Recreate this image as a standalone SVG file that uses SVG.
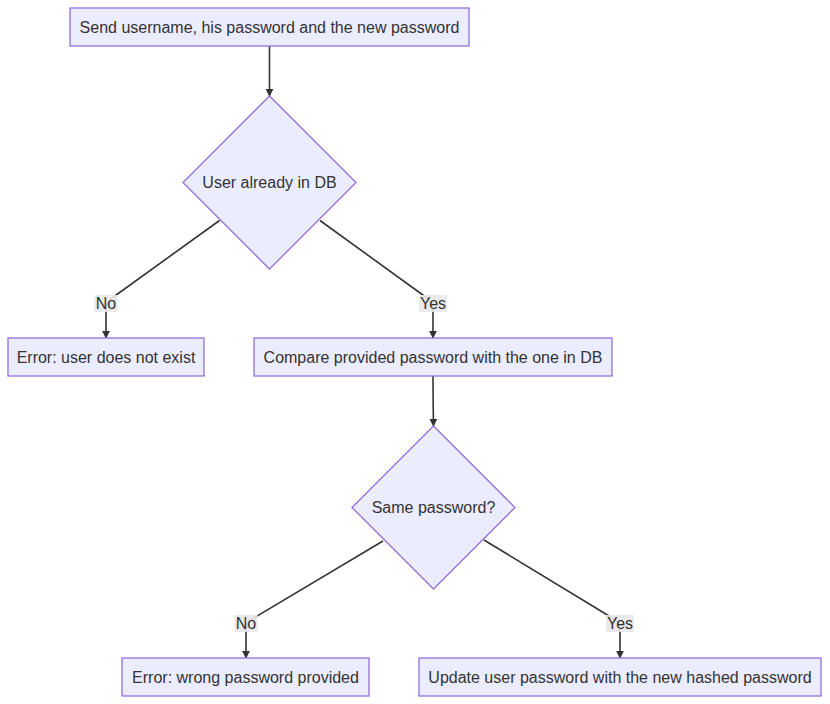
<svg xmlns="http://www.w3.org/2000/svg" width="830" height="704" viewBox="0 0 830 704">
<defs>
<marker id="arrow" viewBox="0 0 10 10" refX="9" refY="5" markerWidth="8" markerHeight="8" markerUnits="userSpaceOnUse" orient="auto">
<path d="M0,0 L10,5 L0,10 z" fill="#333333"/>
</marker>
<style>
.node rect, .node polygon { fill: #ECECFF; stroke: #9370DB; stroke-width: 1.3; }
.lbl { font-family: "Liberation Sans", Arial, sans-serif; font-size: 16px; fill: #333333; text-anchor: middle; dominant-baseline: central; }
.edge { fill: none; stroke: #333333; stroke-width: 1.6; marker-end: url(#arrow); }
.edgebg { fill: #E8E8E8; opacity: 0.9; }
</style>
</defs>
<rect width="830" height="704" fill="#ffffff"/>
<g id="connectors">
<path class="edge" d="M269.5,46 L269.5,96"/>
<path class="edge" d="M219.5,220.5 L112,298 Q106,302.5 106,310 L106,338"/>
<path class="edge" d="M320,220.5 L427,298 Q433,302.5 433,310 L433,338"/>
<path class="edge" d="M433,376 Q433,400 433.5,426"/>
<path class="edge" d="M383,541 L252,619 Q246,623 246,630 L246,658"/>
<path class="edge" d="M484,540 L614,619 Q620,623 620,630 L620,658"/>
</g>
<g id="edge-labels">
<rect class="edgebg" x="94.5" y="295" width="23" height="17"/>
<text class="lbl" x="106" y="303.5">No</text>
<rect class="edgebg" x="419" y="295" width="28" height="17"/>
<text class="lbl" x="433" y="303.5">Yes</text>
<rect class="edgebg" x="234.5" y="615" width="23" height="17"/>
<text class="lbl" x="246" y="623.5">No</text>
<rect class="edgebg" x="606" y="615" width="28" height="17"/>
<text class="lbl" x="620" y="623.5">Yes</text>
</g>
<g id="node-send" class="node">
<rect x="70" y="8" width="399" height="38"/>
<text class="lbl" x="269.5" y="27">Send username, his password and the new password</text>
</g>
<g id="node-userindb" class="node">
<polygon points="269.5,96 356,182.5 269.5,269 183,182.5"/>
<text class="lbl" x="269.5" y="182.5">User already in DB</text>
</g>
<g id="node-error-user" class="node">
<rect x="8" y="338" width="196" height="38"/>
<text class="lbl" x="106" y="357">Error: user does not exist</text>
</g>
<g id="node-compare" class="node">
<rect x="254" y="338" width="358" height="38"/>
<text class="lbl" x="433" y="357">Compare provided password with the one in DB</text>
</g>
<g id="node-samepw" class="node">
<polygon points="433.5,426 515,507.5 433.5,589 352,507.5"/>
<text class="lbl" x="433.5" y="507.5">Same password?</text>
</g>
<g id="node-error-pw" class="node">
<rect x="122" y="658" width="247" height="38"/>
<text class="lbl" x="245.5" y="677">Error: wrong password provided</text>
</g>
<g id="node-update" class="node">
<rect x="419" y="658" width="402" height="38"/>
<text class="lbl" x="620" y="677">Update user password with the new hashed password</text>
</g>
</svg>
